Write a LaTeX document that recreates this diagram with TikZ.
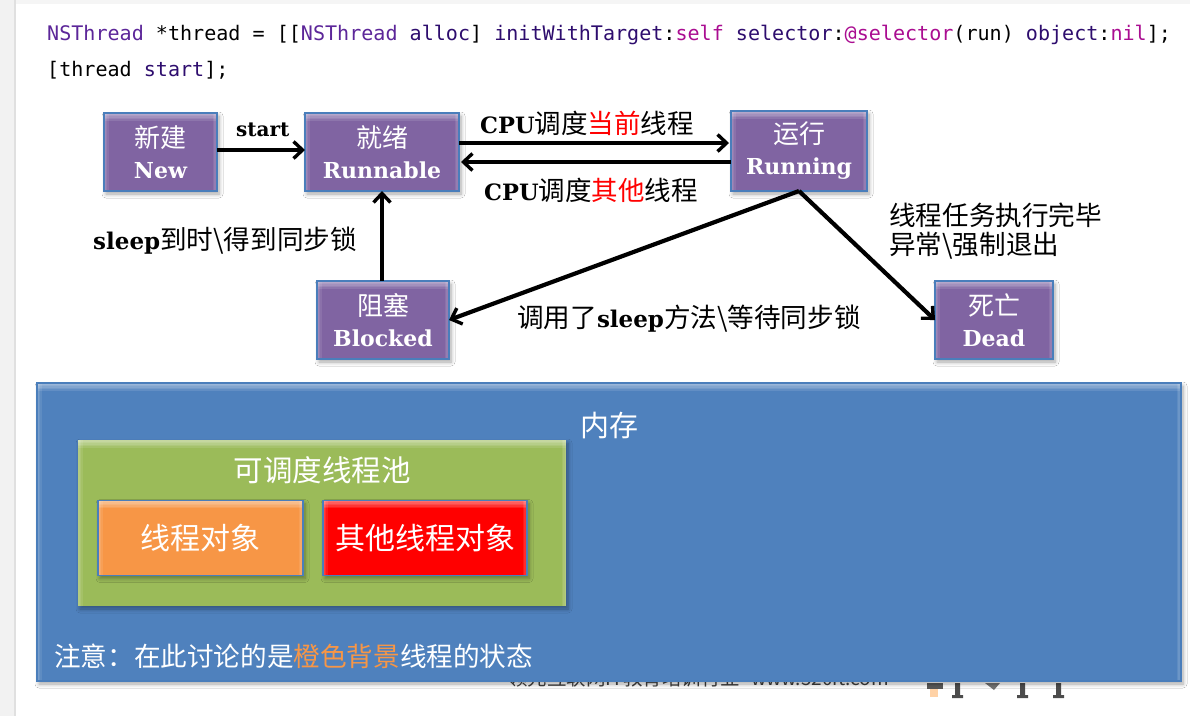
\documentclass[tikz,border=0pt]{standalone}
\usepackage{fontspec}
\usetikzlibrary{arrows.meta,shadows.blur}
\setmainfont{Liberation Serif}
\newfontfamily\cjk{Noto Sans CJK SC}
\newfontfamily\latb{DejaVu Serif}[BoldFont={DejaVu Serif Bold}]
\newfontfamily\codef{DejaVu Sans Mono}
\newcommand{\fsz}[1]{\fontsize{#1}{#1}\selectfont}
\newcommand{\bl}[1]{{\latb\bfseries #1}}
\definecolor{cpurple}{HTML}{8064A2}
\definecolor{cblue}{HTML}{4F81BD}
\definecolor{cedge}{HTML}{4A7EBB}
\definecolor{cgreen}{HTML}{9BBB59}
\definecolor{corange}{HTML}{F79646}
\definecolor{ckey}{HTML}{AA0D91}
\definecolor{cclass}{HTML}{5C2699}
\definecolor{cmeth}{HTML}{2E0D6E}
\tikzset{
  softshadow/.style={blur shadow={shadow xshift=2pt,shadow yshift=-3pt,shadow blur radius=4pt,shadow blur steps=6,shadow opacity=35}},
  glossy/.style={fill=#1, inner sep=0pt, outer sep=0pt, softshadow,
    path picture={
      \foreach \d in {1.5,3,4.5,6,7.5}{
        \fill[white,opacity=.11] (path picture bounding box.north west) rectangle ([yshift=-\d pt]path picture bounding box.north east);
      }
      \foreach \d in {1.5,3,4.5}{
        \fill[white,opacity=.09] (path picture bounding box.north west) rectangle ([xshift=\d pt]path picture bounding box.south west);
        \fill[white,opacity=.09] (path picture bounding box.north east) rectangle ([xshift=-\d pt]path picture bounding box.south east);
      }
    }},
  state/.style={glossy=cpurple, draw=cedge, line width=2pt, text=white, align=center, font=\cjk\fsz{26}},
  arrowline/.style={draw=black, line width=4.2pt, -{Straight Barb[length=9pt,width=17pt,line width=3.4pt]}},
  lab/.style={inner sep=0pt, text=black, font=\cjk\fsz{26.6}, anchor=west},
  code/.style={inner sep=0pt, anchor=base west, font=\codef\fsz{20.07}},
  onblue/.style={inner sep=0pt, text=white, font=\cjk\fsz{29}},
}
\newcommand{\cname}[1]{\textcolor{cclass}{#1}}
\newcommand{\ckw}[1]{\textcolor{ckey}{#1}}
\newcommand{\cm}[1]{\textcolor{cmeth}{#1}}
\begin{document}
\begin{tikzpicture}[x=1pt,y=-1pt]
\useasboundingbox (0,0) rectangle (1190,716);
% window chrome
\fill[white] (0,0) rectangle (1190,716);
\fill[black!5] (0,0) rectangle (14,716);
\fill[black!12] (14,0) rectangle (16,716);
\fill[black!4] (16,0) rectangle (1190,4);
% code
\node[code] (codea) at (47,40) {\cname{NSThread} *thread = [[\cname{NSThread} \cm{alloc}] \cm{initWithTarget}:\ckw{self} \cm{selector}:\ckw{@selector}(run) \cm{object}:\ckw{nil}];};
\node[code] (codeb) at (47,76) {[thread \cm{start}];};
% text half hidden by the memory box
\node[inner sep=0pt,anchor=west,text=black!75] (wm) at (508,678) {\cjk\fsz{19.5}领先互联网IT教育培训行业\hspace{11pt}\fsz{19}www.520it.com};
\fill[black!70] (955,683) rectangle (960,697) (1020,683) rectangle (1025,697) (1056,683) rectangle (1061,697);
\fill[black!70] (952,695) rectangle (963,698) (1017,695) rectangle (1028,698) (1053,695) rectangle (1064,698);
\fill[black!55] (985,683) -- (1000,683) -- (994,690) -- cycle;
\fill[black!65] (927,683) rectangle (943,689);
\fill[orange!35] (930,689) rectangle (938,697);
% states
\node[state, minimum width=113pt, minimum height=78pt] (new) at (160.5,152) {新建\\[4.5pt]\bl{\fsz{22}New}};
\node[state, minimum width=154pt, minimum height=78pt] (runnable) at (382,152) {就绪\\[4.5pt]\bl{\fsz{22}Runnable}};
\node[state, minimum width=136pt, minimum height=80pt] (running) at (799,151) {运行\\[5pt]\bl{\fsz{22}Running}};
\node[state, minimum width=132pt, minimum height=78pt] (blocked) at (383,320) {阻塞\\[4.5pt]\bl{\fsz{22}Blocked}};
\node[state, minimum width=118pt, minimum height=78pt] (dead) at (994,320) {死亡\\[4.5pt]\bl{\fsz{22}Dead}};
% connectors
\draw[arrowline] ([yshift=2pt]new.east) -- ([yshift=2pt]runnable.west);
\draw[arrowline] ([yshift=9pt]runnable.east) -- ([yshift=8pt,xshift=-2pt]running.west);
\draw[arrowline] ([yshift=-11pt]running.west) -- ([yshift=-10pt,xshift=2pt]runnable.east);
\draw[arrowline] (blocked.north -| runnable.south) -- (runnable.south);
\draw[arrowline] (running.south) -- (blocked.east);
\draw[arrowline] (running.south) -- (dead.west);
% labels
\node[lab] (l1) at (236,130) {\bl{\fsz{20}start}};
\node[lab] (l2) at (480,123) {\bl{\fsz{22.5}CPU}\fsz{26.5}调度\textcolor{red}{当前}线程};
\node[lab] (l3) at (484,190) {\bl{\fsz{22.5}CPU}\fsz{26.5}调度\textcolor{red}{其他}线程};
\node[lab] (l4) at (93,241) {\bl{\fsz{23}sleep}到时\textbackslash 得到同步锁};
\node[lab] (l5) at (517,319) {调用了\bl{\fsz{23}sleep}方法\textbackslash 等待同步锁};
\node[lab, align=left] (l6) at (889,231) {线程任务执行完毕\\[3pt]异常\textbackslash 强制退出};
% memory
\node[glossy=cblue, draw=cedge, line width=1.5pt, minimum width=1144pt, minimum height=298pt] (mem) at (609,532) {};
\node[onblue, anchor=center] (memt) at (609.5,425) {内存};
\node[glossy=cgreen, minimum width=488pt, minimum height=166pt] (pool) at (322,523) {};
\node[onblue, anchor=center] (poolt) at (322,470) {\fsz{29.5}可调度线程池};
\node[glossy=corange, draw=cedge, line width=1.5pt, minimum width=205pt, minimum height=75pt, text=white, font=\cjk\fsz{30}] (obj) at (200.5,538) {线程对象};
\node[glossy=red, draw=cedge, line width=1.5pt, minimum width=204pt, minimum height=75pt, text=white, font=\cjk\fsz{30}] (other) at (425,538) {其他线程对象};
\node[onblue, anchor=west, font=\cjk\fsz{26.6}] (note) at (54,656) {注意：在此讨论的是\textcolor{corange}{橙色背景}线程的状态};
\end{tikzpicture}
\end{document}
